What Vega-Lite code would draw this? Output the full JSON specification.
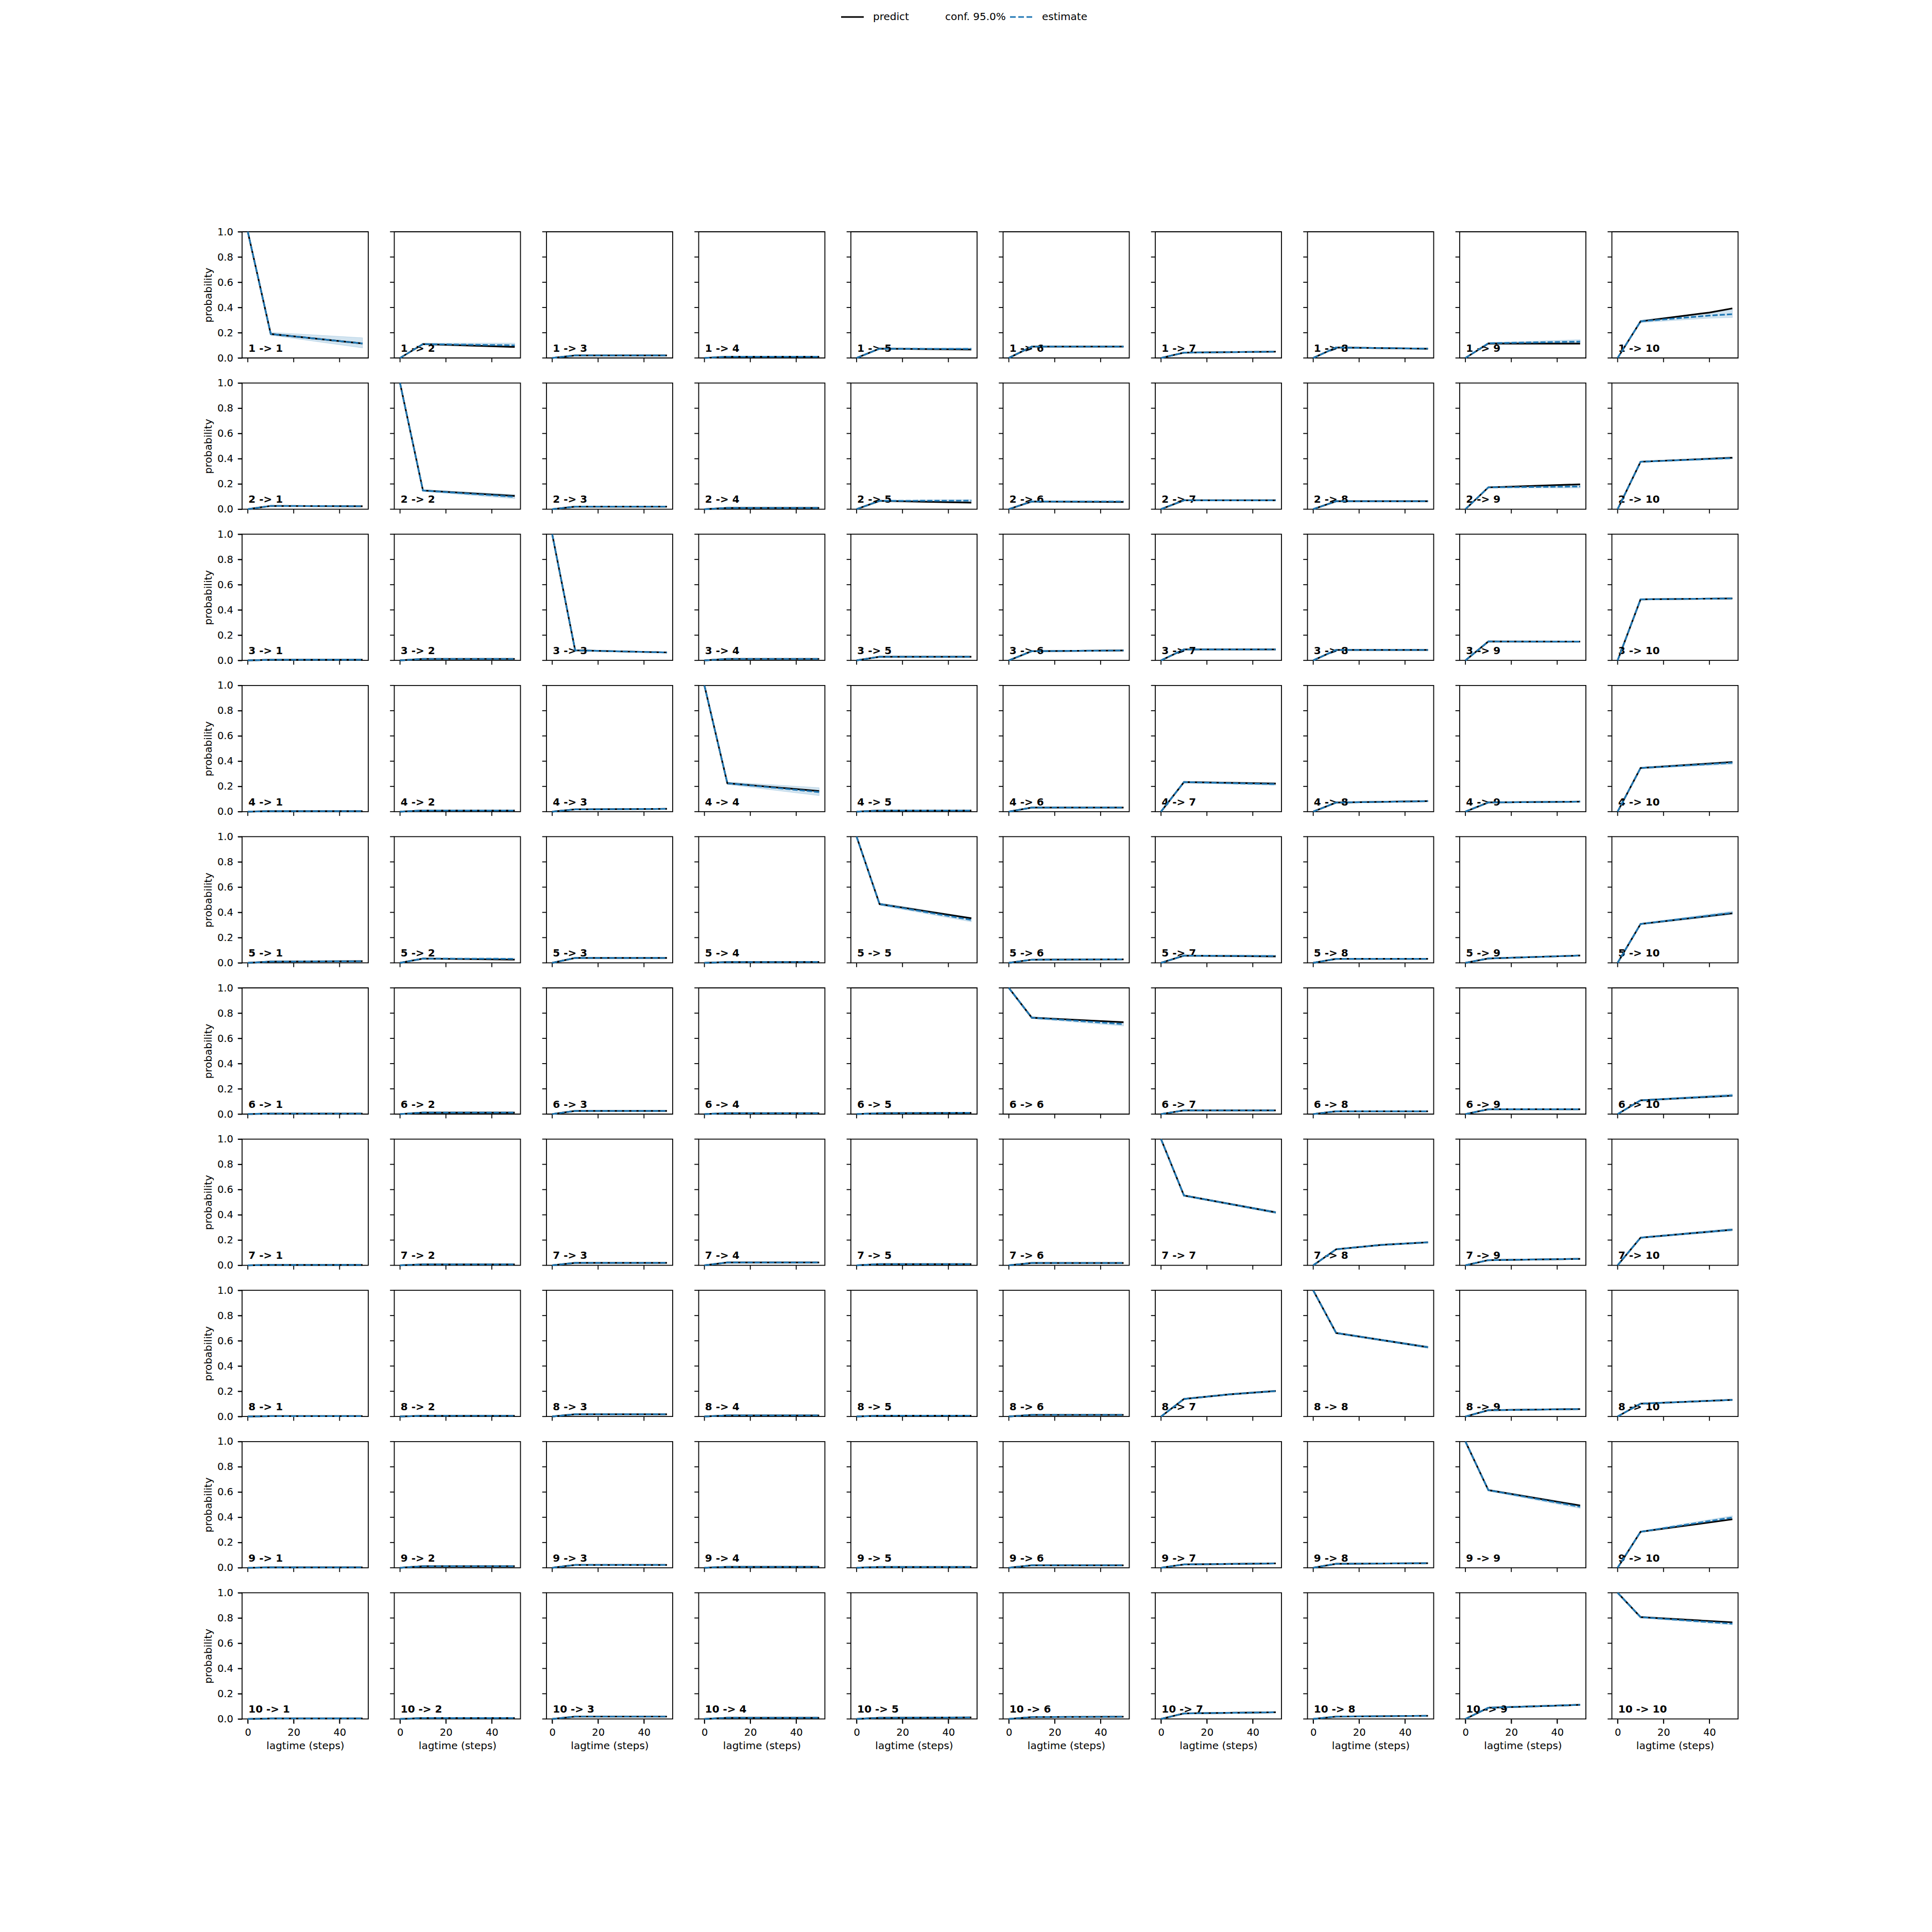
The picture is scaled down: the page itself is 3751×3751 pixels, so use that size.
{
"$schema": "https://vega.github.io/schema/vega-lite/v6.json",
"background": "white",
"padding": {"left": 394, "top": 9, "right": 10, "bottom": 10},
"bounds": "flush",
"data": {"values": [
{"i":1,"j":1,"x":0,"p":1,"e":1,"lo":1,"hi":1,"t":"1 -> 1"},{"i":1,"j":1,"x":10,"p":0.19,"e":0.19,"lo":0.18,"hi":0.203},{"i":1,"j":1,"x":50,"p":0.115,"e":0.115,"lo":0.08,"hi":0.16},
{"i":1,"j":2,"x":0,"p":0,"e":0,"lo":0,"hi":0,"t":"1 -> 2"},{"i":1,"j":2,"x":10,"p":0.11,"e":0.11,"lo":0.104,"hi":0.118},{"i":1,"j":2,"x":50,"p":0.087,"e":0.1,"lo":0.092,"hi":0.118},
{"i":1,"j":3,"x":0,"p":0,"e":0,"lo":0,"hi":0,"t":"1 -> 3"},{"i":1,"j":3,"x":10,"p":0.02,"e":0.02,"lo":0.016,"hi":0.024},{"i":1,"j":3,"x":50,"p":0.02,"e":0.02,"lo":0.015,"hi":0.025},
{"i":1,"j":4,"x":0,"p":0,"e":0,"lo":0,"hi":0,"t":"1 -> 4"},{"i":1,"j":4,"x":10,"p":0.01,"e":0.01,"lo":0.007,"hi":0.013},{"i":1,"j":4,"x":50,"p":0.01,"e":0.01,"lo":0.007,"hi":0.013},
{"i":1,"j":5,"x":0,"p":0,"e":0,"lo":0,"hi":0,"t":"1 -> 5"},{"i":1,"j":5,"x":10,"p":0.074,"e":0.073,"lo":0.068,"hi":0.078},{"i":1,"j":5,"x":50,"p":0.067,"e":0.072,"lo":0.064,"hi":0.08},
{"i":1,"j":6,"x":0,"p":0,"e":0,"lo":0,"hi":0,"t":"1 -> 6"},{"i":1,"j":6,"x":10,"p":0.09,"e":0.09,"lo":0.086,"hi":0.094},{"i":1,"j":6,"x":50,"p":0.09,"e":0.09,"lo":0.086,"hi":0.094},
{"i":1,"j":7,"x":0,"p":0,"e":0,"lo":0,"hi":0,"t":"1 -> 7"},{"i":1,"j":7,"x":10,"p":0.042,"e":0.042,"lo":0.038,"hi":0.046},{"i":1,"j":7,"x":50,"p":0.05,"e":0.05,"lo":0.046,"hi":0.054},
{"i":1,"j":8,"x":0,"p":0,"e":0,"lo":0,"hi":0,"t":"1 -> 8"},{"i":1,"j":8,"x":10,"p":0.083,"e":0.083,"lo":0.079,"hi":0.087},{"i":1,"j":8,"x":50,"p":0.073,"e":0.074,"lo":0.07,"hi":0.078},
{"i":1,"j":9,"x":0,"p":0,"e":0,"lo":0,"hi":0,"t":"1 -> 9"},{"i":1,"j":9,"x":10,"p":0.115,"e":0.117,"lo":0.11,"hi":0.122},{"i":1,"j":9,"x":50,"p":0.114,"e":0.13,"lo":0.118,"hi":0.145},
{"i":1,"j":10,"x":0,"p":0,"e":0,"lo":0,"hi":0,"t":"1 -> 10"},{"i":1,"j":10,"x":10,"p":0.29,"e":0.29,"lo":0.28,"hi":0.3},{"i":1,"j":10,"x":40,"p":0.36,"e":0.336,"lo":0.315,"hi":0.36},{"i":1,"j":10,"x":50,"p":0.393,"e":0.347,"lo":0.32,"hi":0.385},

{"i":2,"j":1,"x":0,"p":0,"e":0,"lo":0,"hi":0,"t":"2 -> 1"},{"i":2,"j":1,"x":10,"p":0.026,"e":0.026,"lo":0.022,"hi":0.03},{"i":2,"j":1,"x":50,"p":0.023,"e":0.023,"lo":0.019,"hi":0.027},
{"i":2,"j":2,"x":0,"p":1,"e":1,"lo":1,"hi":1,"t":"2 -> 2"},{"i":2,"j":2,"x":10,"p":0.148,"e":0.148,"lo":0.14,"hi":0.156},{"i":2,"j":2,"x":50,"p":0.105,"e":0.098,"lo":0.083,"hi":0.117},
{"i":2,"j":3,"x":0,"p":0,"e":0,"lo":0,"hi":0,"t":"2 -> 3"},{"i":2,"j":3,"x":10,"p":0.02,"e":0.02,"lo":0.016,"hi":0.024},{"i":2,"j":3,"x":50,"p":0.02,"e":0.02,"lo":0.016,"hi":0.024},
{"i":2,"j":4,"x":0,"p":0,"e":0,"lo":0,"hi":0,"t":"2 -> 4"},{"i":2,"j":4,"x":10,"p":0.01,"e":0.01,"lo":0.007,"hi":0.013},{"i":2,"j":4,"x":50,"p":0.01,"e":0.01,"lo":0.007,"hi":0.013},
{"i":2,"j":5,"x":0,"p":0,"e":0,"lo":0,"hi":0,"t":"2 -> 5"},{"i":2,"j":5,"x":10,"p":0.066,"e":0.066,"lo":0.061,"hi":0.071},{"i":2,"j":5,"x":50,"p":0.052,"e":0.068,"lo":0.06,"hi":0.076},
{"i":2,"j":6,"x":0,"p":0,"e":0,"lo":0,"hi":0,"t":"2 -> 6"},{"i":2,"j":6,"x":10,"p":0.061,"e":0.061,"lo":0.057,"hi":0.065},{"i":2,"j":6,"x":50,"p":0.057,"e":0.061,"lo":0.056,"hi":0.066},
{"i":2,"j":7,"x":0,"p":0,"e":0,"lo":0,"hi":0,"t":"2 -> 7"},{"i":2,"j":7,"x":10,"p":0.07,"e":0.07,"lo":0.066,"hi":0.074},{"i":2,"j":7,"x":50,"p":0.07,"e":0.07,"lo":0.065,"hi":0.075},
{"i":2,"j":8,"x":0,"p":0,"e":0,"lo":0,"hi":0,"t":"2 -> 8"},{"i":2,"j":8,"x":10,"p":0.063,"e":0.063,"lo":0.059,"hi":0.067},{"i":2,"j":8,"x":50,"p":0.063,"e":0.063,"lo":0.059,"hi":0.067},
{"i":2,"j":9,"x":0,"p":0,"e":0,"lo":0,"hi":0,"t":"2 -> 9"},{"i":2,"j":9,"x":10,"p":0.173,"e":0.173,"lo":0.168,"hi":0.178},{"i":2,"j":9,"x":50,"p":0.197,"e":0.18,"lo":0.168,"hi":0.192},
{"i":2,"j":10,"x":0,"p":0,"e":0,"lo":0,"hi":0,"t":"2 -> 10"},{"i":2,"j":10,"x":10,"p":0.376,"e":0.376,"lo":0.371,"hi":0.381},{"i":2,"j":10,"x":50,"p":0.408,"e":0.405,"lo":0.398,"hi":0.412},

{"i":3,"j":1,"x":0,"p":0,"e":0,"lo":0,"hi":0,"t":"3 -> 1"},{"i":3,"j":1,"x":10,"p":0.005,"e":0.005,"lo":0.002,"hi":0.008},{"i":3,"j":1,"x":50,"p":0.005,"e":0.005,"lo":0.002,"hi":0.008},
{"i":3,"j":2,"x":0,"p":0,"e":0,"lo":0,"hi":0,"t":"3 -> 2"},{"i":3,"j":2,"x":10,"p":0.012,"e":0.012,"lo":0.009,"hi":0.015},{"i":3,"j":2,"x":50,"p":0.012,"e":0.012,"lo":0.009,"hi":0.015},
{"i":3,"j":3,"x":0,"p":1,"e":1,"lo":1,"hi":1,"t":"3 -> 3"},{"i":3,"j":3,"x":10,"p":0.08,"e":0.08,"lo":0.076,"hi":0.084},{"i":3,"j":3,"x":50,"p":0.063,"e":0.063,"lo":0.059,"hi":0.067},
{"i":3,"j":4,"x":0,"p":0,"e":0,"lo":0,"hi":0,"t":"3 -> 4"},{"i":3,"j":4,"x":10,"p":0.012,"e":0.012,"lo":0.009,"hi":0.015},{"i":3,"j":4,"x":50,"p":0.012,"e":0.012,"lo":0.009,"hi":0.015},
{"i":3,"j":5,"x":0,"p":0,"e":0,"lo":0,"hi":0,"t":"3 -> 5"},{"i":3,"j":5,"x":10,"p":0.029,"e":0.029,"lo":0.025,"hi":0.033},{"i":3,"j":5,"x":50,"p":0.029,"e":0.029,"lo":0.025,"hi":0.033},
{"i":3,"j":6,"x":0,"p":0,"e":0,"lo":0,"hi":0,"t":"3 -> 6"},{"i":3,"j":6,"x":10,"p":0.073,"e":0.073,"lo":0.069,"hi":0.077},{"i":3,"j":6,"x":50,"p":0.079,"e":0.079,"lo":0.075,"hi":0.083},
{"i":3,"j":7,"x":0,"p":0,"e":0,"lo":0,"hi":0,"t":"3 -> 7"},{"i":3,"j":7,"x":10,"p":0.087,"e":0.087,"lo":0.083,"hi":0.091},{"i":3,"j":7,"x":50,"p":0.087,"e":0.087,"lo":0.083,"hi":0.091},
{"i":3,"j":8,"x":0,"p":0,"e":0,"lo":0,"hi":0,"t":"3 -> 8"},{"i":3,"j":8,"x":10,"p":0.083,"e":0.083,"lo":0.079,"hi":0.087},{"i":3,"j":8,"x":50,"p":0.083,"e":0.083,"lo":0.079,"hi":0.087},
{"i":3,"j":9,"x":0,"p":0,"e":0,"lo":0,"hi":0,"t":"3 -> 9"},{"i":3,"j":9,"x":10,"p":0.15,"e":0.15,"lo":0.146,"hi":0.154},{"i":3,"j":9,"x":50,"p":0.149,"e":0.149,"lo":0.145,"hi":0.153},
{"i":3,"j":10,"x":0,"p":0,"e":0,"lo":0,"hi":0,"t":"3 -> 10"},{"i":3,"j":10,"x":10,"p":0.484,"e":0.484,"lo":0.479,"hi":0.489},{"i":3,"j":10,"x":50,"p":0.491,"e":0.491,"lo":0.486,"hi":0.496},

{"i":4,"j":1,"x":0,"p":0,"e":0,"lo":0,"hi":0,"t":"4 -> 1"},{"i":4,"j":1,"x":10,"p":0.004,"e":0.004,"lo":0.002,"hi":0.006},{"i":4,"j":1,"x":50,"p":0.004,"e":0.004,"lo":0.002,"hi":0.006},
{"i":4,"j":2,"x":0,"p":0,"e":0,"lo":0,"hi":0,"t":"4 -> 2"},{"i":4,"j":2,"x":10,"p":0.009,"e":0.009,"lo":0.006,"hi":0.012},{"i":4,"j":2,"x":50,"p":0.009,"e":0.009,"lo":0.006,"hi":0.012},
{"i":4,"j":3,"x":0,"p":0,"e":0,"lo":0,"hi":0,"t":"4 -> 3"},{"i":4,"j":3,"x":10,"p":0.018,"e":0.018,"lo":0.015,"hi":0.021},{"i":4,"j":3,"x":50,"p":0.022,"e":0.022,"lo":0.018,"hi":0.026},
{"i":4,"j":4,"x":0,"p":1,"e":1,"lo":1,"hi":1,"t":"4 -> 4"},{"i":4,"j":4,"x":10,"p":0.225,"e":0.225,"lo":0.215,"hi":0.235},{"i":4,"j":4,"x":50,"p":0.163,"e":0.155,"lo":0.127,"hi":0.19},
{"i":4,"j":5,"x":0,"p":0,"e":0,"lo":0,"hi":0,"t":"4 -> 5"},{"i":4,"j":5,"x":10,"p":0.009,"e":0.009,"lo":0.006,"hi":0.012},{"i":4,"j":5,"x":50,"p":0.009,"e":0.009,"lo":0.006,"hi":0.012},
{"i":4,"j":6,"x":0,"p":0,"e":0,"lo":0,"hi":0,"t":"4 -> 6"},{"i":4,"j":6,"x":10,"p":0.032,"e":0.032,"lo":0.028,"hi":0.036},{"i":4,"j":6,"x":50,"p":0.032,"e":0.032,"lo":0.028,"hi":0.036},
{"i":4,"j":7,"x":0,"p":0,"e":0,"lo":0,"hi":0,"t":"4 -> 7"},{"i":4,"j":7,"x":10,"p":0.234,"e":0.234,"lo":0.228,"hi":0.24},{"i":4,"j":7,"x":50,"p":0.222,"e":0.218,"lo":0.208,"hi":0.23},
{"i":4,"j":8,"x":0,"p":0,"e":0,"lo":0,"hi":0,"t":"4 -> 8"},{"i":4,"j":8,"x":10,"p":0.072,"e":0.072,"lo":0.068,"hi":0.076},{"i":4,"j":8,"x":50,"p":0.083,"e":0.083,"lo":0.078,"hi":0.088},
{"i":4,"j":9,"x":0,"p":0,"e":0,"lo":0,"hi":0,"t":"4 -> 9"},{"i":4,"j":9,"x":10,"p":0.073,"e":0.073,"lo":0.069,"hi":0.077},{"i":4,"j":9,"x":50,"p":0.079,"e":0.079,"lo":0.075,"hi":0.083},
{"i":4,"j":10,"x":0,"p":0,"e":0,"lo":0,"hi":0,"t":"4 -> 10"},{"i":4,"j":10,"x":10,"p":0.346,"e":0.346,"lo":0.34,"hi":0.352},{"i":4,"j":10,"x":50,"p":0.393,"e":0.387,"lo":0.375,"hi":0.4},

{"i":5,"j":1,"x":0,"p":0,"e":0,"lo":0,"hi":0,"t":"5 -> 1"},{"i":5,"j":1,"x":10,"p":0.01,"e":0.01,"lo":0.007,"hi":0.013},{"i":5,"j":1,"x":50,"p":0.013,"e":0.013,"lo":0.01,"hi":0.016},
{"i":5,"j":2,"x":0,"p":0,"e":0,"lo":0,"hi":0,"t":"5 -> 2"},{"i":5,"j":2,"x":10,"p":0.034,"e":0.034,"lo":0.03,"hi":0.038},{"i":5,"j":2,"x":50,"p":0.025,"e":0.032,"lo":0.026,"hi":0.038},
{"i":5,"j":3,"x":0,"p":0,"e":0,"lo":0,"hi":0,"t":"5 -> 3"},{"i":5,"j":3,"x":10,"p":0.039,"e":0.039,"lo":0.035,"hi":0.043},{"i":5,"j":3,"x":50,"p":0.039,"e":0.039,"lo":0.035,"hi":0.043},
{"i":5,"j":4,"x":0,"p":0,"e":0,"lo":0,"hi":0,"t":"5 -> 4"},{"i":5,"j":4,"x":10,"p":0.006,"e":0.006,"lo":0.003,"hi":0.009},{"i":5,"j":4,"x":50,"p":0.007,"e":0.007,"lo":0.004,"hi":0.01},
{"i":5,"j":5,"x":0,"p":1,"e":1,"lo":1,"hi":1,"t":"5 -> 5"},{"i":5,"j":5,"x":10,"p":0.466,"e":0.466,"lo":0.456,"hi":0.476},{"i":5,"j":5,"x":50,"p":0.353,"e":0.34,"lo":0.325,"hi":0.36},
{"i":5,"j":6,"x":0,"p":0,"e":0,"lo":0,"hi":0,"t":"5 -> 6"},{"i":5,"j":6,"x":10,"p":0.025,"e":0.025,"lo":0.021,"hi":0.029},{"i":5,"j":6,"x":50,"p":0.028,"e":0.028,"lo":0.024,"hi":0.032},
{"i":5,"j":7,"x":0,"p":0,"e":0,"lo":0,"hi":0,"t":"5 -> 7"},{"i":5,"j":7,"x":10,"p":0.057,"e":0.057,"lo":0.052,"hi":0.062},{"i":5,"j":7,"x":50,"p":0.051,"e":0.054,"lo":0.047,"hi":0.062},
{"i":5,"j":8,"x":0,"p":0,"e":0,"lo":0,"hi":0,"t":"5 -> 8"},{"i":5,"j":8,"x":10,"p":0.032,"e":0.032,"lo":0.028,"hi":0.036},{"i":5,"j":8,"x":50,"p":0.032,"e":0.032,"lo":0.028,"hi":0.036},
{"i":5,"j":9,"x":0,"p":0,"e":0,"lo":0,"hi":0,"t":"5 -> 9"},{"i":5,"j":9,"x":10,"p":0.035,"e":0.035,"lo":0.031,"hi":0.039},{"i":5,"j":9,"x":50,"p":0.058,"e":0.058,"lo":0.054,"hi":0.062},
{"i":5,"j":10,"x":0,"p":0,"e":0,"lo":0,"hi":0,"t":"5 -> 10"},{"i":5,"j":10,"x":10,"p":0.308,"e":0.308,"lo":0.302,"hi":0.314},{"i":5,"j":10,"x":50,"p":0.393,"e":0.397,"lo":0.383,"hi":0.41},

{"i":6,"j":1,"x":0,"p":0,"e":0,"lo":0,"hi":0,"t":"6 -> 1"},{"i":6,"j":1,"x":10,"p":0.004,"e":0.004,"lo":0.002,"hi":0.006},{"i":6,"j":1,"x":50,"p":0.004,"e":0.004,"lo":0.002,"hi":0.006},
{"i":6,"j":2,"x":0,"p":0,"e":0,"lo":0,"hi":0,"t":"6 -> 2"},{"i":6,"j":2,"x":10,"p":0.012,"e":0.012,"lo":0.009,"hi":0.015},{"i":6,"j":2,"x":50,"p":0.012,"e":0.012,"lo":0.009,"hi":0.015},
{"i":6,"j":3,"x":0,"p":0,"e":0,"lo":0,"hi":0,"t":"6 -> 3"},{"i":6,"j":3,"x":10,"p":0.025,"e":0.025,"lo":0.021,"hi":0.029},{"i":6,"j":3,"x":50,"p":0.025,"e":0.025,"lo":0.021,"hi":0.029},
{"i":6,"j":4,"x":0,"p":0,"e":0,"lo":0,"hi":0,"t":"6 -> 4"},{"i":6,"j":4,"x":10,"p":0.007,"e":0.007,"lo":0.004,"hi":0.01},{"i":6,"j":4,"x":50,"p":0.007,"e":0.007,"lo":0.004,"hi":0.01},
{"i":6,"j":5,"x":0,"p":0,"e":0,"lo":0,"hi":0,"t":"6 -> 5"},{"i":6,"j":5,"x":10,"p":0.007,"e":0.007,"lo":0.004,"hi":0.01},{"i":6,"j":5,"x":50,"p":0.01,"e":0.01,"lo":0.006,"hi":0.014},
{"i":6,"j":6,"x":0,"p":1,"e":1,"lo":1,"hi":1,"t":"6 -> 6"},{"i":6,"j":6,"x":10,"p":0.764,"e":0.764,"lo":0.756,"hi":0.772},{"i":6,"j":6,"x":50,"p":0.728,"e":0.713,"lo":0.698,"hi":0.73},
{"i":6,"j":7,"x":0,"p":0,"e":0,"lo":0,"hi":0,"t":"6 -> 7"},{"i":6,"j":7,"x":10,"p":0.029,"e":0.029,"lo":0.025,"hi":0.033},{"i":6,"j":7,"x":50,"p":0.029,"e":0.029,"lo":0.025,"hi":0.033},
{"i":6,"j":8,"x":0,"p":0,"e":0,"lo":0,"hi":0,"t":"6 -> 8"},{"i":6,"j":8,"x":10,"p":0.022,"e":0.022,"lo":0.018,"hi":0.026},{"i":6,"j":8,"x":50,"p":0.022,"e":0.022,"lo":0.018,"hi":0.026},
{"i":6,"j":9,"x":0,"p":0,"e":0,"lo":0,"hi":0,"t":"6 -> 9"},{"i":6,"j":9,"x":10,"p":0.038,"e":0.038,"lo":0.034,"hi":0.042},{"i":6,"j":9,"x":50,"p":0.038,"e":0.038,"lo":0.034,"hi":0.042},
{"i":6,"j":10,"x":0,"p":0,"e":0,"lo":0,"hi":0,"t":"6 -> 10"},{"i":6,"j":10,"x":10,"p":0.109,"e":0.109,"lo":0.104,"hi":0.114},{"i":6,"j":10,"x":50,"p":0.146,"e":0.148,"lo":0.138,"hi":0.16},

{"i":7,"j":1,"x":0,"p":0,"e":0,"lo":0,"hi":0,"t":"7 -> 1"},{"i":7,"j":1,"x":10,"p":0.003,"e":0.003,"lo":0.001,"hi":0.005},{"i":7,"j":1,"x":50,"p":0.003,"e":0.003,"lo":0.001,"hi":0.005},
{"i":7,"j":2,"x":0,"p":0,"e":0,"lo":0,"hi":0,"t":"7 -> 2"},{"i":7,"j":2,"x":10,"p":0.007,"e":0.007,"lo":0.004,"hi":0.01},{"i":7,"j":2,"x":50,"p":0.007,"e":0.007,"lo":0.004,"hi":0.01},
{"i":7,"j":3,"x":0,"p":0,"e":0,"lo":0,"hi":0,"t":"7 -> 3"},{"i":7,"j":3,"x":10,"p":0.019,"e":0.019,"lo":0.016,"hi":0.022},{"i":7,"j":3,"x":50,"p":0.019,"e":0.019,"lo":0.016,"hi":0.022},
{"i":7,"j":4,"x":0,"p":0,"e":0,"lo":0,"hi":0,"t":"7 -> 4"},{"i":7,"j":4,"x":10,"p":0.022,"e":0.022,"lo":0.018,"hi":0.026},{"i":7,"j":4,"x":50,"p":0.022,"e":0.022,"lo":0.018,"hi":0.026},
{"i":7,"j":5,"x":0,"p":0,"e":0,"lo":0,"hi":0,"t":"7 -> 5"},{"i":7,"j":5,"x":10,"p":0.009,"e":0.009,"lo":0.006,"hi":0.012},{"i":7,"j":5,"x":50,"p":0.009,"e":0.009,"lo":0.006,"hi":0.012},
{"i":7,"j":6,"x":0,"p":0,"e":0,"lo":0,"hi":0,"t":"7 -> 6"},{"i":7,"j":6,"x":10,"p":0.018,"e":0.018,"lo":0.015,"hi":0.021},{"i":7,"j":6,"x":50,"p":0.018,"e":0.018,"lo":0.015,"hi":0.021},
{"i":7,"j":7,"x":0,"p":1,"e":1,"lo":1,"hi":1,"t":"7 -> 7"},{"i":7,"j":7,"x":10,"p":0.553,"e":0.553,"lo":0.546,"hi":0.56},{"i":7,"j":7,"x":50,"p":0.419,"e":0.419,"lo":0.41,"hi":0.428},
{"i":7,"j":8,"x":0,"p":0,"e":0,"lo":0,"hi":0,"t":"7 -> 8"},{"i":7,"j":8,"x":10,"p":0.127,"e":0.127,"lo":0.122,"hi":0.132},{"i":7,"j":8,"x":30,"p":0.162,"e":0.162,"lo":0.156,"hi":0.168},{"i":7,"j":8,"x":50,"p":0.182,"e":0.182,"lo":0.175,"hi":0.189},
{"i":7,"j":9,"x":0,"p":0,"e":0,"lo":0,"hi":0,"t":"7 -> 9"},{"i":7,"j":9,"x":10,"p":0.041,"e":0.041,"lo":0.037,"hi":0.045},{"i":7,"j":9,"x":50,"p":0.051,"e":0.051,"lo":0.047,"hi":0.055},
{"i":7,"j":10,"x":0,"p":0,"e":0,"lo":0,"hi":0,"t":"7 -> 10"},{"i":7,"j":10,"x":10,"p":0.219,"e":0.219,"lo":0.213,"hi":0.225},{"i":7,"j":10,"x":50,"p":0.282,"e":0.282,"lo":0.272,"hi":0.292},

{"i":8,"j":1,"x":0,"p":0,"e":0,"lo":0,"hi":0,"t":"8 -> 1"},{"i":8,"j":1,"x":10,"p":0.003,"e":0.003,"lo":0.001,"hi":0.005},{"i":8,"j":1,"x":50,"p":0.003,"e":0.003,"lo":0.001,"hi":0.005},
{"i":8,"j":2,"x":0,"p":0,"e":0,"lo":0,"hi":0,"t":"8 -> 2"},{"i":8,"j":2,"x":10,"p":0.006,"e":0.006,"lo":0.003,"hi":0.009},{"i":8,"j":2,"x":50,"p":0.006,"e":0.006,"lo":0.003,"hi":0.009},
{"i":8,"j":3,"x":0,"p":0,"e":0,"lo":0,"hi":0,"t":"8 -> 3"},{"i":8,"j":3,"x":10,"p":0.018,"e":0.018,"lo":0.015,"hi":0.021},{"i":8,"j":3,"x":50,"p":0.018,"e":0.018,"lo":0.015,"hi":0.021},
{"i":8,"j":4,"x":0,"p":0,"e":0,"lo":0,"hi":0,"t":"8 -> 4"},{"i":8,"j":4,"x":10,"p":0.009,"e":0.009,"lo":0.006,"hi":0.012},{"i":8,"j":4,"x":50,"p":0.009,"e":0.009,"lo":0.006,"hi":0.012},
{"i":8,"j":5,"x":0,"p":0,"e":0,"lo":0,"hi":0,"t":"8 -> 5"},{"i":8,"j":5,"x":10,"p":0.007,"e":0.007,"lo":0.004,"hi":0.01},{"i":8,"j":5,"x":50,"p":0.007,"e":0.007,"lo":0.004,"hi":0.01},
{"i":8,"j":6,"x":0,"p":0,"e":0,"lo":0,"hi":0,"t":"8 -> 6"},{"i":8,"j":6,"x":10,"p":0.013,"e":0.013,"lo":0.01,"hi":0.016},{"i":8,"j":6,"x":50,"p":0.013,"e":0.013,"lo":0.01,"hi":0.016},
{"i":8,"j":7,"x":0,"p":0,"e":0,"lo":0,"hi":0,"t":"8 -> 7"},{"i":8,"j":7,"x":10,"p":0.139,"e":0.139,"lo":0.134,"hi":0.144},{"i":8,"j":7,"x":30,"p":0.176,"e":0.176,"lo":0.17,"hi":0.182},{"i":8,"j":7,"x":50,"p":0.202,"e":0.202,"lo":0.195,"hi":0.209},
{"i":8,"j":8,"x":0,"p":1,"e":1,"lo":1,"hi":1,"t":"8 -> 8"},{"i":8,"j":8,"x":10,"p":0.662,"e":0.662,"lo":0.655,"hi":0.669},{"i":8,"j":8,"x":50,"p":0.549,"e":0.549,"lo":0.54,"hi":0.558},
{"i":8,"j":9,"x":0,"p":0,"e":0,"lo":0,"hi":0,"t":"8 -> 9"},{"i":8,"j":9,"x":10,"p":0.05,"e":0.05,"lo":0.046,"hi":0.054},{"i":8,"j":9,"x":50,"p":0.059,"e":0.059,"lo":0.055,"hi":0.063},
{"i":8,"j":10,"x":0,"p":0,"e":0,"lo":0,"hi":0,"t":"8 -> 10"},{"i":8,"j":10,"x":10,"p":0.102,"e":0.102,"lo":0.097,"hi":0.107},{"i":8,"j":10,"x":50,"p":0.132,"e":0.132,"lo":0.127,"hi":0.137},

{"i":9,"j":1,"x":0,"p":0,"e":0,"lo":0,"hi":0,"t":"9 -> 1"},{"i":9,"j":1,"x":10,"p":0.003,"e":0.003,"lo":0.001,"hi":0.005},{"i":9,"j":1,"x":50,"p":0.003,"e":0.003,"lo":0.001,"hi":0.005},
{"i":9,"j":2,"x":0,"p":0,"e":0,"lo":0,"hi":0,"t":"9 -> 2"},{"i":9,"j":2,"x":10,"p":0.012,"e":0.012,"lo":0.009,"hi":0.015},{"i":9,"j":2,"x":50,"p":0.012,"e":0.012,"lo":0.009,"hi":0.015},
{"i":9,"j":3,"x":0,"p":0,"e":0,"lo":0,"hi":0,"t":"9 -> 3"},{"i":9,"j":3,"x":10,"p":0.022,"e":0.022,"lo":0.018,"hi":0.026},{"i":9,"j":3,"x":50,"p":0.022,"e":0.022,"lo":0.018,"hi":0.026},
{"i":9,"j":4,"x":0,"p":0,"e":0,"lo":0,"hi":0,"t":"9 -> 4"},{"i":9,"j":4,"x":10,"p":0.007,"e":0.007,"lo":0.004,"hi":0.01},{"i":9,"j":4,"x":50,"p":0.007,"e":0.007,"lo":0.004,"hi":0.01},
{"i":9,"j":5,"x":0,"p":0,"e":0,"lo":0,"hi":0,"t":"9 -> 5"},{"i":9,"j":5,"x":10,"p":0.006,"e":0.006,"lo":0.003,"hi":0.009},{"i":9,"j":5,"x":50,"p":0.006,"e":0.006,"lo":0.003,"hi":0.009},
{"i":9,"j":6,"x":0,"p":0,"e":0,"lo":0,"hi":0,"t":"9 -> 6"},{"i":9,"j":6,"x":10,"p":0.019,"e":0.019,"lo":0.016,"hi":0.022},{"i":9,"j":6,"x":50,"p":0.019,"e":0.019,"lo":0.016,"hi":0.022},
{"i":9,"j":7,"x":0,"p":0,"e":0,"lo":0,"hi":0,"t":"9 -> 7"},{"i":9,"j":7,"x":10,"p":0.026,"e":0.026,"lo":0.022,"hi":0.03},{"i":9,"j":7,"x":50,"p":0.034,"e":0.034,"lo":0.03,"hi":0.038},
{"i":9,"j":8,"x":0,"p":0,"e":0,"lo":0,"hi":0,"t":"9 -> 8"},{"i":9,"j":8,"x":10,"p":0.031,"e":0.031,"lo":0.027,"hi":0.035},{"i":9,"j":8,"x":50,"p":0.036,"e":0.036,"lo":0.032,"hi":0.04},
{"i":9,"j":9,"x":0,"p":1,"e":1,"lo":1,"hi":1,"t":"9 -> 9"},{"i":9,"j":9,"x":10,"p":0.615,"e":0.615,"lo":0.607,"hi":0.623},{"i":9,"j":9,"x":50,"p":0.493,"e":0.483,"lo":0.47,"hi":0.5},
{"i":9,"j":10,"x":0,"p":0,"e":0,"lo":0,"hi":0,"t":"9 -> 10"},{"i":9,"j":10,"x":10,"p":0.285,"e":0.285,"lo":0.279,"hi":0.291},{"i":9,"j":10,"x":50,"p":0.384,"e":0.398,"lo":0.385,"hi":0.412},

{"i":10,"j":1,"x":0,"p":0,"e":0,"lo":0,"hi":0,"t":"10 -> 1"},{"i":10,"j":1,"x":10,"p":0.004,"e":0.004,"lo":0.002,"hi":0.006},{"i":10,"j":1,"x":50,"p":0.004,"e":0.004,"lo":0.002,"hi":0.006},
{"i":10,"j":2,"x":0,"p":0,"e":0,"lo":0,"hi":0,"t":"10 -> 2"},{"i":10,"j":2,"x":10,"p":0.007,"e":0.007,"lo":0.004,"hi":0.01},{"i":10,"j":2,"x":50,"p":0.007,"e":0.007,"lo":0.004,"hi":0.01},
{"i":10,"j":3,"x":0,"p":0,"e":0,"lo":0,"hi":0,"t":"10 -> 3"},{"i":10,"j":3,"x":10,"p":0.019,"e":0.019,"lo":0.016,"hi":0.022},{"i":10,"j":3,"x":50,"p":0.019,"e":0.019,"lo":0.016,"hi":0.022},
{"i":10,"j":4,"x":0,"p":0,"e":0,"lo":0,"hi":0,"t":"10 -> 4"},{"i":10,"j":4,"x":10,"p":0.009,"e":0.009,"lo":0.006,"hi":0.012},{"i":10,"j":4,"x":50,"p":0.009,"e":0.009,"lo":0.006,"hi":0.012},
{"i":10,"j":5,"x":0,"p":0,"e":0,"lo":0,"hi":0,"t":"10 -> 5"},{"i":10,"j":5,"x":10,"p":0.009,"e":0.009,"lo":0.006,"hi":0.012},{"i":10,"j":5,"x":50,"p":0.012,"e":0.012,"lo":0.009,"hi":0.015},
{"i":10,"j":6,"x":0,"p":0,"e":0,"lo":0,"hi":0,"t":"10 -> 6"},{"i":10,"j":6,"x":10,"p":0.015,"e":0.015,"lo":0.012,"hi":0.018},{"i":10,"j":6,"x":50,"p":0.018,"e":0.018,"lo":0.015,"hi":0.021},
{"i":10,"j":7,"x":0,"p":0,"e":0,"lo":0,"hi":0,"t":"10 -> 7"},{"i":10,"j":7,"x":10,"p":0.044,"e":0.044,"lo":0.04,"hi":0.048},{"i":10,"j":7,"x":50,"p":0.053,"e":0.053,"lo":0.049,"hi":0.057},
{"i":10,"j":8,"x":0,"p":0,"e":0,"lo":0,"hi":0,"t":"10 -> 8"},{"i":10,"j":8,"x":10,"p":0.019,"e":0.019,"lo":0.016,"hi":0.022},{"i":10,"j":8,"x":50,"p":0.025,"e":0.025,"lo":0.021,"hi":0.029},
{"i":10,"j":9,"x":0,"p":0,"e":0,"lo":0,"hi":0,"t":"10 -> 9"},{"i":10,"j":9,"x":10,"p":0.089,"e":0.089,"lo":0.085,"hi":0.093},{"i":10,"j":9,"x":50,"p":0.112,"e":0.112,"lo":0.107,"hi":0.117},
{"i":10,"j":10,"x":0,"p":1,"e":1,"lo":1,"hi":1,"t":"10 -> 10"},{"i":10,"j":10,"x":10,"p":0.807,"e":0.807,"lo":0.8,"hi":0.814},{"i":10,"j":10,"x":50,"p":0.766,"e":0.755,"lo":0.745,"hi":0.77}
]},
"facet": {
  "row": {"field": "i", "type": "ordinal", "title": null, "header": {"labels": false, "title": null}},
  "column": {"field": "j", "type": "ordinal", "title": null, "header": {"labels": false, "title": null}}
},
"spacing": {"row": 48.6, "column": 50.5},
"spec": {
  "width": 245,
  "height": 245,
  "encoding": {
    "x": {"field": "x", "type": "quantitative", "scale": {"domain": [-2.5, 52.5], "nice": false, "zero": false},
          "axis": {"values": [0, 20, 40], "title": "lagtime (steps)"}}
  },
  "layer": [
    {"mark": {"type": "area", "fill": "#1f77b4", "fillOpacity": 0.2, "stroke": "#1f77b4", "strokeOpacity": 0.2, "strokeWidth": 1},
     "encoding": {
       "y": {"field": "lo", "type": "quantitative", "scale": {"domain": [0, 1], "nice": false}, "axis": {"values": [0, 0.2, 0.4, 0.6, 0.8, 1], "format": ".1f", "title": "probability"}},
       "y2": {"field": "hi"}
     }},
    {"transform": [{"filter": "isValid(datum.t)"}],
     "mark": {"type": "tick", "orient": "vertical", "size": 8.3, "thickness": 1.8, "color": "black", "opacity": 1, "yOffset": 4.15},
     "encoding": {"x": {"datum": 0, "type": "quantitative"}, "y": {"datum": 0, "type": "quantitative"}}},
    {"transform": [{"filter": "isValid(datum.t)"}],
     "mark": {"type": "tick", "orient": "vertical", "size": 8.3, "thickness": 1.8, "color": "black", "opacity": 1, "yOffset": 4.15},
     "encoding": {"x": {"datum": 20, "type": "quantitative"}, "y": {"datum": 0, "type": "quantitative"}}},
    {"transform": [{"filter": "isValid(datum.t)"}],
     "mark": {"type": "tick", "orient": "vertical", "size": 8.3, "thickness": 1.8, "color": "black", "opacity": 1, "yOffset": 4.15},
     "encoding": {"x": {"datum": 40, "type": "quantitative"}, "y": {"datum": 0, "type": "quantitative"}}},
    {"transform": [{"filter": "isValid(datum.t)"}],
     "mark": {"type": "tick", "orient": "horizontal", "size": 8.3, "thickness": 1.8, "color": "black", "opacity": 1, "xOffset": -4.15},
     "encoding": {"x": {"datum": -2.5, "type": "quantitative"}, "y": {"datum": 0, "type": "quantitative"}}},
    {"transform": [{"filter": "isValid(datum.t)"}],
     "mark": {"type": "tick", "orient": "horizontal", "size": 8.3, "thickness": 1.8, "color": "black", "opacity": 1, "xOffset": -4.15},
     "encoding": {"x": {"datum": -2.5, "type": "quantitative"}, "y": {"datum": 0.2, "type": "quantitative"}}},
    {"transform": [{"filter": "isValid(datum.t)"}],
     "mark": {"type": "tick", "orient": "horizontal", "size": 8.3, "thickness": 1.8, "color": "black", "opacity": 1, "xOffset": -4.15},
     "encoding": {"x": {"datum": -2.5, "type": "quantitative"}, "y": {"datum": 0.4, "type": "quantitative"}}},
    {"transform": [{"filter": "isValid(datum.t)"}],
     "mark": {"type": "tick", "orient": "horizontal", "size": 8.3, "thickness": 1.8, "color": "black", "opacity": 1, "xOffset": -4.15},
     "encoding": {"x": {"datum": -2.5, "type": "quantitative"}, "y": {"datum": 0.6, "type": "quantitative"}}},
    {"transform": [{"filter": "isValid(datum.t)"}],
     "mark": {"type": "tick", "orient": "horizontal", "size": 8.3, "thickness": 1.8, "color": "black", "opacity": 1, "xOffset": -4.15},
     "encoding": {"x": {"datum": -2.5, "type": "quantitative"}, "y": {"datum": 0.8, "type": "quantitative"}}},
    {"transform": [{"filter": "isValid(datum.t)"}],
     "mark": {"type": "tick", "orient": "horizontal", "size": 8.3, "thickness": 1.8, "color": "black", "opacity": 1, "xOffset": -4.15},
     "encoding": {"x": {"datum": -2.5, "type": "quantitative"}, "y": {"datum": 1, "type": "quantitative"}}},
    {"transform": [{"filter": "isValid(datum.t)"}],
     "mark": {"type": "text", "align": "left", "baseline": "alphabetic", "fontWeight": "bold", "fontSize": 20, "font": "DejaVu Sans", "color": "black"},
     "encoding": {
       "x": {"datum": 0.25, "type": "quantitative"},
       "y": {"datum": 0.05, "type": "quantitative"},
       "text": {"field": "t"}
     }},
    {"mark": {"type": "line", "strokeWidth": 3.2},
     "encoding": {
       "y": {"field": "p", "type": "quantitative"},
       "color": {"datum": "predict", "type": "nominal",
         "scale": {"domain": ["predict", "conf. 95.0%", "estimate"], "range": ["black", "rgba(0,0,0,0)", "#1f77b4"]},
         "legend": {"title": null, "orient": "none", "legendX": 1161, "legendY": -441, "direction": "horizontal",
           "symbolType": "stroke", "symbolStrokeWidth": 3.2, "symbolSize": 1936, "labelFontSize": 20, "labelFont": "DejaVu Sans", "labelColor": "black",
           "labelOffset": 16, "columnPadding": 1, "padding": 0,
           "encode": {"symbols": {"update": {"strokeDash": {"signal": "datum.value === 'estimate' ? [11, 5] : []"}}}}}}
     }},
    {"mark": {"type": "line", "strokeWidth": 3.2, "strokeDash": [10, 4]},
     "encoding": {
       "y": {"field": "e", "type": "quantitative"},
       "color": {"datum": "estimate", "type": "nominal"}
     }}
  ]
},
"config": {
  "view": {"stroke": "black", "strokeWidth": 1.8},
  "axis": {"grid": false, "domain": false, "tickColor": "black", "tickSize": 8.3, "tickWidth": 1.8,
    "labelFont": "DejaVu Sans", "labelFontSize": 19.5, "labelColor": "black", "labelFlush": false,
    "titleFont": "DejaVu Sans", "titleFontSize": 20, "titleFontWeight": "normal", "titleColor": "black"},
  "axisX": {"labelPadding": 8.5, "titlePadding": 6},
  "axisY": {"labelPadding": 9.3, "titlePadding": 7},
  "text": {"font": "DejaVu Sans"},
  "legend": {"labelFont": "DejaVu Sans"}
}
}
